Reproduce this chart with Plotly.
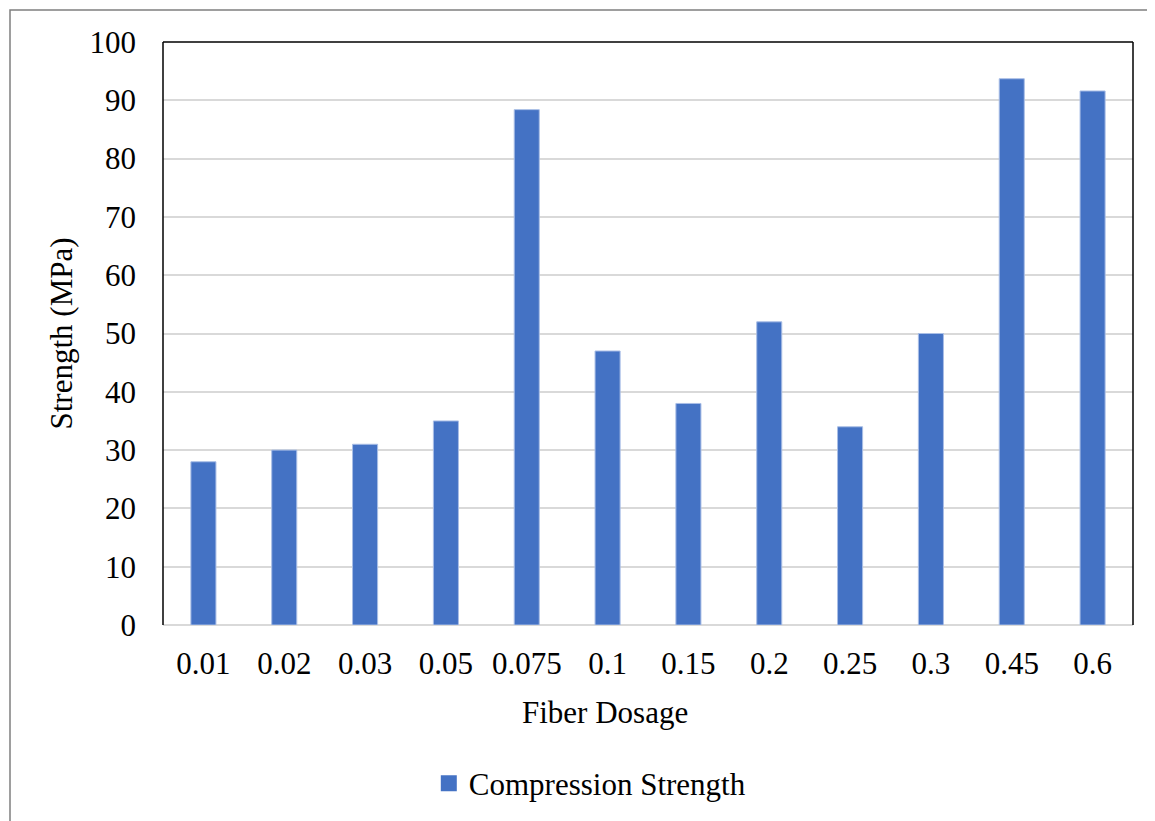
import plotly.graph_objects as go

categories = ["0.01", "0.02", "0.03", "0.05", "0.075", "0.1", "0.15", "0.2", "0.25", "0.3", "0.45", "0.6"]
strength = [28, 30, 31, 35, 88.4, 47, 38, 52, 34, 50, 93.7, 91.6]
y_ticks = list(range(0, 101, 10))

FONT = "Liberation Serif, Times New Roman, serif"
FS = 31
BLUE = "#4472C4"

fig = go.Figure()
fig.add_trace(go.Bar(
    x=categories, y=strength, name="Compression Strength",
    marker=dict(color=BLUE, line=dict(color="#A9BEE6", width=1)),
    showlegend=False,
))
# legend-only entry with a larger square swatch
fig.add_trace(go.Scatter(
    x=[None], y=[None], mode="markers", name="Compression Strength",
    marker=dict(symbol="square", size=16, color=BLUE), showlegend=True,
))

# page has an 8px body margin, so the figure is sized/positioned to compensate
W, H = 1147, 813
L, T, R, B = 155, 34, 22, 195
PW, PH = W - L - R, H - T - B

fig.update_layout(
    width=W, height=H,
    margin=dict(l=L, r=R, t=T, b=B),
    paper_bgcolor="white", plot_bgcolor="white",
    font=dict(family=FONT, size=FS, color="black"),
    bargap=0.69,
    showlegend=True,
    legend=dict(orientation="h", x=0.44, xanchor="center", y=-0.27, yanchor="middle",
                itemwidth=30, font=dict(family=FONT, size=FS, color="black")),
    xaxis=dict(showline=False, showgrid=False, ticks="", ticklabelstandoff=17,
               tickfont=dict(size=FS)),
    yaxis=dict(title=dict(text="Strength (MPa)", standoff=7, font=dict(size=FS)),
               range=[0, 100], tickvals=y_ticks, showgrid=True, gridcolor="#D9D9D9", gridwidth=2,
               zeroline=True, zerolinecolor="#D9D9D9", zerolinewidth=2,
               showline=False, ticks="", ticklabelstandoff=26, tickfont=dict(size=FS)),
    annotations=[
        dict(text="Fiber Dosage", xref="paper", yref="paper", x=(605 - 163) / PW,
             y=(626 - 714) / PH, xanchor="center", yanchor="middle", showarrow=False,
             font=dict(family=FONT, size=FS, color="black")),
    ],
    shapes=[
        dict(type="line", xref="paper", yref="paper", x0=0, x1=0, y0=0, y1=1,
             line=dict(color="black", width=1.5)),
        dict(type="line", xref="paper", yref="paper", x0=0, x1=1, y0=1, y1=1,
             line=dict(color="black", width=1.5)),
        dict(type="line", xref="paper", yref="paper", x0=1, x1=1, y0=0, y1=1,
             line=dict(color="black", width=1.5)),
        dict(type="rect", xref="paper", yref="paper",
             x0=(2 - L) / PW, x1=(W + 20 - L) / PW,
             y0=(T + PH - (H + 20)) / PH, y1=(T + PH - 2) / PH,
             line=dict(color="#7F7F7F", width=1.5), layer="below"),
    ],
)

fig.write_html("out.html")
